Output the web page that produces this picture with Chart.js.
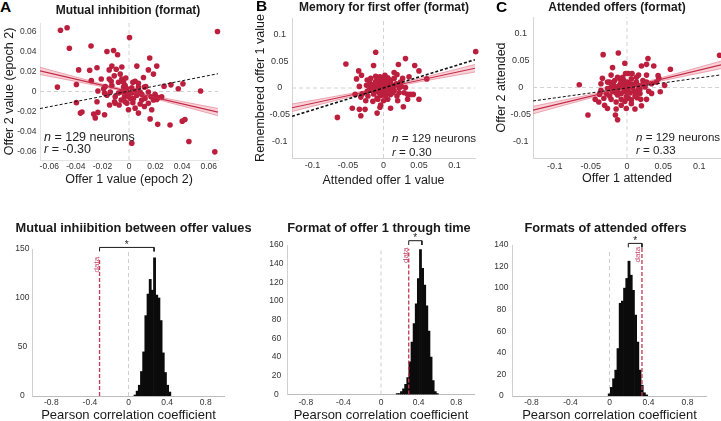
<!DOCTYPE html>
<html>
<head>
<meta charset="utf-8">
<script src="https://cdn.jsdelivr.net/npm/chart.js@4.4.1/dist/chart.umd.min.js"></script>
<style>
  body { margin: 0; background: #fff; }
  #wrap { position: relative; width: 721px; height: 421px; overflow: hidden; background: #fff; }
  canvas { position: absolute; }
  .t { position: absolute; white-space: nowrap; line-height: 1; font-family: 'Liberation Sans', Arial, sans-serif; color: #1a1a1a; }
  .c { transform: translate(-50%, -50%); }
  .l { transform: translateY(-50%); }
  .title { font-weight: bold; font-size: 12px; }
  .title2 { font-weight: bold; font-size: 12.8px; }
  .letter { font-weight: bold; font-size: 15.5px; color: #000; }
  .stat { font-size: 12.5px; color: #222; }
  .stat2 { font-size: 11.6px; color: #222; }
</style>
</head>
<body>
<div id="wrap">
  <canvas id="cA" width="224" height="168" style="left:0px;top:19px"></canvas>
  <canvas id="cB" width="228" height="174" style="left:253px;top:14px"></canvas>
  <canvas id="cC" width="233" height="173" style="left:494px;top:13px"></canvas>
  <canvas id="cD" width="225" height="194" style="left:0px;top:229px"></canvas>
  <canvas id="cE" width="221" height="198" style="left:254px;top:225px"></canvas>
  <canvas id="cF" width="227" height="198" style="left:480px;top:225px"></canvas>

  <div class="t letter l" style="left:0px;top:7px">A</div>
  <div class="t letter l" style="left:256px;top:6px">B</div>
  <div class="t letter l" style="left:496px;top:7px">C</div>
  <div class="t title c" style="left:128px;top:10px">Mutual inhibition (format)</div>
  <div class="t title c" style="left:384px;top:7px">Memory for first offer (format)</div>
  <div class="t title c" style="left:617px;top:7px">Attended offers (format)</div>
  <div class="t title2 c" style="left:133.5px;top:228px">Mutual inhiibition between offer values</div>
  <div class="t title2 c" style="left:379px;top:228px">Format of offer 1 through time</div>
  <div class="t title2 c" style="left:605.5px;top:228px">Formats of attended offers</div>

  <div class="t stat l" style="left:44px;top:137px"><i>n</i> = 129 neurons</div>
  <div class="t stat l" style="left:44px;top:149px"><i>r</i> = -0.30</div>
  <div class="t stat2 l" style="left:392px;top:138px"><i>n</i> = 129 neurons</div>
  <div class="t stat2 l" style="left:392px;top:151.5px"><i>r</i> = 0.30</div>
  <div class="t stat2 l" style="left:636px;top:137px"><i>n</i> = 129 neurons</div>
  <div class="t stat2 l" style="left:636px;top:150px"><i>r</i> = 0.33</div>
</div>
<script>
// ---- panel A: offer 1 vs offer 2 value (epoch 2)
const offer1A = [-0.0516,-0.0466,-0.0449,-0.0286,-0.0166,-0.0116,-0.0086,0.0004,0.0666,0.0156,
  -0.0379,-0.0296,-0.0241,-0.0539,-0.0396,-0.0284,-0.0209,-0.0149,-0.0129,-0.0096,
  -0.0054,0.0059,0.0146,0.0209,0.0184,-0.0149,-0.0134,-0.0079,-0.0024,0.0046,
  0.0071,0.0109,0.0116,-0.0179,-0.0041,-0.0016,0.0021,0.0046,0.0084,0.0126,
  0.0264,0.0316,0.0406,0.0371,0.0539,-0.0396,-0.0366,-0.0354,-0.0266,-0.0234,
  -0.0254,-0.0184,-0.0234,-0.0166,-0.0141,-0.0104,-0.0104,-0.0074,-0.0059,-0.0034,
  -0.0016,0.0009,0.0029,-0.0004,0.0046,0.0071,0.0084,0.0121,0.0146,0.0166,
  0.0209,0.0246,0.0171,0.0096,-0.0016,-0.0054,0.0059,-0.0079,0.0146,0.0159,
  0.0216,0.0309,0.0401,0.0421,0.0021,0.0451,0.0646,-0.0129,0.0029,-0.0029,
  -0.0054,-0.0111,-0.0066,-0.0191,-0.0241,-0.0146,-0.0184,0.0021,0.0096,0.0196,
  0.0221,0.0071,0.0034,-0.0029,-0.0109,0.0116,0.0184,-0.0024,-0.0004,-0.0041];
const offer2A = [0.0610,0.0634,0.0431,0.0453,0.0398,0.0408,0.0366,0.0537,0.0598,0.0334,
  0.0215,0.0211,0.0237,0.0044,0.0069,0.0108,0.0124,0.0215,0.0253,0.0221,
  0.0244,0.0253,0.0215,0.0253,0.0173,0.0124,0.0102,0.0092,0.0134,0.0102,
  0.0082,0.0140,0.0044,0.0050,0.0044,0.0027,0.0037,0.0005,-0.0005,0.0050,
  0.0053,0.0066,0.0076,0.0027,0.0005,-0.0111,-0.0215,-0.0205,-0.0224,-0.0208,
  -0.0263,-0.0231,0.0005,-0.0037,-0.0005,-0.0053,-0.0118,-0.0134,-0.0085,-0.0053,
  -0.0118,-0.0069,-0.0111,-0.0182,-0.0166,-0.0215,-0.0124,-0.0069,-0.0118,-0.0053,
  -0.0079,-0.0053,-0.0182,-0.0085,-0.0021,-0.0005,-0.0037,-0.0015,-0.0005,-0.0273,
  -0.0327,-0.0334,-0.0295,-0.0279,-0.0514,-0.0498,-0.0601,0.0060,0.0092,0.0060,
  0.0124,0.0156,0.0173,0.0027,-0.0102,-0.0134,-0.0015,-0.0015,-0.0027,-0.0027,
  -0.0060,0.0044,-0.0069,-0.0102,-0.0102,-0.0150,-0.0085,-0.0005,-0.0047,0.0092];
const bandXA = [-0.067,-0.04,-0.02,0,0.02,0.04,0.067];
const bandHiA = [0.0241,0.0144,0.0074,0.0010,-0.0048,-0.0100,-0.0169];
const bandLoA = [0.0169,0.0100,0.0048,-0.0010,-0.0074,-0.0144,-0.0241];
const lineXA = [-0.067,0.067];
const fitA = [0.0205,-0.0205];
const diagA = [-0.0170,0.0177];
const ticksA = [-0.06,-0.04,-0.02,0,0.02,0.04,0.06];

// ---- panel B: attended vs remembered offer 1
const attendedB = [0.130,-0.053,-0.011,0.031,-0.014,0.021,0.044,0.050,-0.035,-0.031,
  -0.038,-0.018,-0.005,0.002,0.015,0.019,0.027,0.036,0.061,-0.019,
  -0.011,-0.006,-0.001,0.006,0.010,0.016,0.022,0.031,-0.013,-0.008,
  0.001,0.008,-0.023,-0.030,-0.032,-0.022,-0.014,-0.004,0.003,0.010,
  0.019,0.029,0.038,0.042,0.050,-0.025,-0.015,-0.008,0.006,0.020,
  -0.044,-0.034,-0.026,-0.009,-0.005,0.010,0.028,-0.032,-0.065,-0.018,
  -0.011,-0.004,0.003,-0.006,0.006,0.010,-0.001,-0.015,0.015,0.024,
  -0.009,0.000,-0.034,-0.024,0.034,0.010,0.003,-0.005,0.015,-0.011,
  -0.023,0.022,-0.004,0.034,-0.040,
  -0.002,0.004,-0.007,0.012,-0.016,0.008,-0.003,0.018,-0.010,0.013,-0.020,0.005,-0.012,0.000,0.025];
const rememberedB = [0.068,0.045,0.067,0.055,0.042,0.044,0.042,0.032,0.032,0.024,
  0.017,0.018,0.021,0.024,0.029,0.025,0.018,0.021,0.017,0.009,
  0.012,0.007,0.011,0.012,0.009,0.005,0.000,0.001,0.001,-0.003,
  0.003,-0.005,-0.006,-0.011,-0.017,-0.015,-0.011,-0.012,-0.015,-0.012,
  -0.015,-0.009,-0.012,-0.012,-0.021,-0.024,-0.025,-0.021,-0.021,-0.024,
  -0.038,-0.040,-0.040,-0.047,-0.036,-0.038,-0.035,-0.052,-0.055,0.000,
  0.003,0.000,-0.007,0.016,0.019,0.015,-0.006,-0.005,-0.005,0.011,
  -0.019,-0.024,0.003,0.005,-0.021,0.005,0.007,0.005,0.018,0.022,
  0.015,-0.009,-0.032,-0.012,-0.012,
  0.008,0.002,-0.008,-0.002,0.006,0.014,-0.014,0.008,0.010,-0.009,-0.003,-0.010,-0.006,0.017,0.003];
const bandXB = [-0.129,-0.08,-0.04,0,0.04,0.08,0.129];
const bandHiB = [-0.030,-0.0185,-0.0088,0.002,0.0142,0.0275,0.044];
const bandLoB = [-0.044,-0.0275,-0.0142,-0.002,0.0088,0.0185,0.030];
const lineXB = [-0.129,0.129];
const fitB = [-0.037,0.037];
const diagB = [-0.053,0.053];
const ticksB = [-0.1,-0.05,0,0.05,0.1];

// ---- panel C: offer 1 attended vs offer 2 attended
const offer1C = [0.128,-0.033,-0.012,0.029,-0.020,-0.003,0.020,0.027,0.037,0.060,
  -0.022,-0.002,0.002,0.007,0.016,0.027,0.043,-0.034,-0.013,-0.066,
  -0.036,-0.024,-0.017,-0.010,-0.004,0.006,0.013,0.022,0.034,0.041,
  0.052,0.044,-0.036,-0.027,-0.020,-0.013,-0.006,0.001,0.008,0.015,
  0.025,0.030,-0.044,-0.039,-0.032,-0.031,-0.022,-0.015,-0.008,-0.001,
  0.006,0.012,0.019,0.027,0.046,-0.027,-0.015,-0.001,0.011,0.020,
  -0.054,-0.016,-0.013,-0.009,-0.002,0.004,-0.012,-0.017,0.004,-0.008,
  -0.013,0.011,-0.024,0.015,0.027,-0.006,-0.027,-0.002,0.018,0.006,
  -0.008,0.034,0.013,-0.022,-0.038,
  -0.004,0.003,-0.010,0.009,-0.015,0.002,-0.005,0.018,-0.019,0.010,-0.003,0.022,-0.028,0.000,0.014];
const offer2C = [0.060,0.061,0.064,0.054,0.037,0.045,0.040,0.043,0.040,0.034,
  0.023,0.026,0.026,0.026,0.023,0.023,0.022,0.017,0.019,0.005,
  0.007,0.010,0.013,0.016,0.011,0.016,0.010,0.013,0.007,0.010,
  0.004,0.017,-0.005,-0.002,-0.008,-0.004,0.001,-0.004,-0.001,-0.005,
  0.001,-0.007,-0.022,-0.027,-0.020,-0.033,-0.022,-0.027,-0.022,-0.017,
  -0.023,-0.013,-0.022,-0.022,-0.008,-0.039,-0.040,-0.039,-0.040,-0.034,
  -0.051,-0.051,-0.060,0.007,0.005,0.007,0.002,0.001,-0.010,-0.011,
  -0.014,-0.016,-0.016,0.004,0.010,0.019,0.010,-0.007,-0.011,-0.030,
  -0.033,-0.011,0.019,0.001,-0.013,
  -0.003,0.003,0.004,0.006,-0.010,-0.020,0.014,-0.003,0.006,-0.008,-0.026,0.006,-0.012,0.010,-0.019];
const bandXC = [-0.13,-0.08,-0.04,0,0.04,0.08,0.13];
const bandHiC = [-0.035,-0.0213,-0.0102,0.002,0.0156,0.0303,0.049];
const bandLoC = [-0.049,-0.0303,-0.0156,-0.002,0.0102,0.0213,0.035];
const lineXC = [-0.13,0.13];
const fitC = [-0.042,0.042];
const diagC = [-0.025,0.0235];
const ticksC = [-0.1,-0.05,0,0.05,0.1];

// ---- null distributions of the Pearson r (histograms)
const binsD = [0.0675,0.09,0.1125,0.135,0.1575,0.18,0.2025,0.225,0.2475,0.27,0.2925,0.315,0.3375,0.36,0.3825,0.405,0.4275];
const countsD = [1,5,11,25,45,82,104,119,108,141,103,100,77,44,24,11,4];
const binsE = [0.1725,0.195,0.2175,0.24,0.2625,0.285,0.3075,0.33,0.3525,0.375,0.3975,0.42,0.4425,0.465,0.4875,0.51,0.5325,0.555,0.5775,0.6];
const countsE = [1,1,3,6,11,18,35,56,76,97,124,155,135,117,95,68,40,15,3,1];
const binsF = [-0.0025,0.02,0.0425,0.065,0.0875,0.11,0.1325,0.155,0.1775,0.2,0.2225,0.245,0.2675,0.29,0.3125,0.335,0.3575,0.38];
const countsF = [2,8,16,24,44,86,88,100,109,125,112,98,75,50,24,10,3,1];
const rTicks = [-0.8,-0.4,0,0.4,0.8];
const dataR = [-0.30, 0.295, 0.333];      // observed r for D, E, F
const bracketXD = [-0.30,-0.30,0.265,0.265], bracketYD = [147.5,151.6,151.6,147.5];
const bracketXE = [0.295,0.295,0.435,0.435], bracketYE = [160,164.6,164.6,160];
const bracketXF = [0.193,0.193,0.333,0.333], bracketYF = [137.8,141.5,141.5,137.8];

const RED = '#bc1f3e';
const FONT = "'Liberation Sans', Arial, Helvetica, sans-serif";
Chart.defaults.font.family = FONT;
Chart.defaults.color = '#333';
Chart.defaults.animation = false;
Chart.defaults.events = [];
Chart.defaults.plugins.legend.display = false;
Chart.defaults.plugins.tooltip.enabled = false;

const fmt = v => String(Math.round(v * 1000) / 1000);
const xy = (xs, ys) => xs.map((x, i) => ({ x: x, y: ys[i] }));

// small text notes placed in data coordinates
const notesPlugin = {
  id: 'notes',
  afterDatasetsDraw(chart, args, opts) {
    const { ctx, scales } = chart;
    (opts.items || []).forEach(it => {
      ctx.save();
      ctx.translate(scales.x.getPixelForValue(it.x) + (it.dx || 0), scales.y.getPixelForValue(it.y) + (it.dy || 0));
      ctx.rotate(it.rot || 0);
      ctx.font = it.font;
      ctx.fillStyle = it.color;
      ctx.textAlign = 'center';
      ctx.textBaseline = it.base || 'middle';
      ctx.fillText(it.text, 0, 0);
      ctx.restore();
    });
  }
};

function axis(o) {
  return {
    type: 'linear',
    min: o.min, max: o.max,
    offset: false,
    grid: { display: false, drawTicks: false },
    border: { display: true, color: o.border, width: 1 },
    afterBuildTicks: s => { s.ticks = o.ticks.map(v => ({ value: v })); },
    afterFit: s => {
      if (s.isHorizontal()) { s.height = o.size; s.paddingLeft = 0; s.paddingRight = 0; }
      else { s.width = o.size; s.paddingTop = 0; s.paddingBottom = 0; }
    },
    ticks: { autoSkip: false, maxRotation: 0, padding: o.pad, crossAlign: o.align || 'near',
             font: { size: o.fs }, color: '#333', callback: v => fmt(v) },
    title: { display: !!o.title, text: o.title, color: '#1a1a1a',
             font: { size: o.tfs || 12.5 }, padding: { top: o.tpad || 0, bottom: 0 } }
  };
}

function scatterPanel(id, p) {
  const lo = p.lineX[0], hi = p.lineX[1];
  new Chart(document.getElementById(id), {
    type: 'scatter',
    data: {
      datasets: [
        { data: xy(p.xs, p.ys), backgroundColor: RED, borderWidth: 0, pointRadius: 2.8, order: 5, clip: false },
        { data: xy(p.bandX, p.bandHi), showLine: true, borderColor: '#e8909f', borderWidth: 0.8,
          pointRadius: 0, cubicInterpolationMode: 'monotone', order: 6 },
        { data: xy(p.bandX, p.bandLo), showLine: true, borderColor: '#e8909f', borderWidth: 0.8,
          pointRadius: 0, cubicInterpolationMode: 'monotone', fill: '-1',
          backgroundColor: 'rgba(232,125,145,0.35)', order: 6 },
        { data: xy(p.lineX, p.fit), showLine: true, borderColor: '#c42a45', borderWidth: 1.1, pointRadius: 0, order: 2 },
        { data: xy(p.lineX, p.diag), showLine: true, borderColor: '#111', borderWidth: p.diagW,
          borderDash: [3, 2], pointRadius: 0, order: 1 },
        { data: [{ x: lo, y: 0 }, { x: hi, y: 0 }], showLine: true, borderColor: '#d2d2d2', borderWidth: 1,
          borderDash: [4, 3], pointRadius: 0, order: 10 },
        { data: [{ x: 0, y: p.ymin }, { x: 0, y: p.ymax }], showLine: true, borderColor: '#d2d2d2', borderWidth: 1,
          borderDash: [4, 3], pointRadius: 0, order: 10 }
      ]
    },
    options: {
      responsive: false,
      layout: { padding: { right: 6 } },
      scales: {
        x: axis({ min: lo, max: hi, ticks: p.ticks, size: p.xh, pad: p.xpad, fs: p.fs, border: p.border, title: p.xtitle }),
        y: axis({ min: p.ymin, max: p.ymax, ticks: p.ticks, size: p.yw, pad: p.ypad, fs: p.fs, border: p.border,
                  align: p.yalign, title: p.ytitle, tpad: p.ytpad })
      }
    }
  });
}

scatterPanel('cA', { xs: offer1A, ys: offer2A, bandX: bandXA, bandHi: bandHiA, bandLo: bandLoA,
  lineX: lineXA, fit: fitA, diag: diagA, diagW: 1, ticks: ticksA, ymin: -0.0682, ymax: 0.0682,
  xh: 27, yw: 40, xpad: 2, ypad: 3.5, fs: 8.5, yalign: 'near', border: '#e4e4e4', ytpad: 2,
  xtitle: 'Offer 1 value (epoch 2)', ytitle: 'Offer 2 value (epoch 2)' });
scatterPanel('cB', { xs: attendedB, ys: rememberedB, bandX: bandXB, bandHi: bandHiB, bandLo: bandLoB,
  lineX: lineXB, fit: fitB, diag: diagB, diagW: 1.6, ticks: ticksB, ymin: -0.131, ymax: 0.131,
  xh: 30, yw: 39, xpad: 2, ypad: 2, fs: 9, yalign: 'center', border: '#d4d4d4', ytpad: 0,
  xtitle: 'Attended offer 1 value', ytitle: 'Remembered offer 1 value' });
scatterPanel('cC', { xs: offer1C, ys: offer2C, bandX: bandXC, bandHi: bandHiC, bandLo: bandLoC,
  lineX: lineXC, fit: fitC, diag: diagC, diagW: 1, ticks: ticksC, ymin: -0.131, ymax: 0.131,
  xh: 28, yw: 39, xpad: 3, ypad: 2, fs: 9, yalign: 'center', border: '#d4d4d4', ytpad: 0,
  xtitle: 'Offer 1 attended', ytitle: 'Offer 2 attended' });

function histPanel(id, p) {
  const redCol = '#c23a55';
  new Chart(document.getElementById(id), {
    type: 'bar',
    data: {
      datasets: [
        { type: 'bar', data: xy(p.bins, p.counts), backgroundColor: '#0b0b0b', borderWidth: 0,
          barPercentage: 1, categoryPercentage: 1, grouped: false, order: 3 },
        { type: 'line', data: [{ x: 0, y: 0 }, { x: 0, y: p.zeroTop }], borderColor: '#cfcfcf', borderWidth: 1,
          borderDash: [4, 3], pointRadius: 0, order: 5, clip: false },
        { type: 'line', data: [{ x: p.r, y: 0 }, { x: p.r, y: p.dataTop }], borderColor: redCol, borderWidth: 1.3,
          borderDash: [4, 2], pointRadius: 0, order: 1, clip: false },
        { type: 'line', data: xy(p.bx, p.by), borderColor: '#1a1a1a', borderWidth: 1, pointRadius: 0,
          order: 0, clip: false }
      ]
    },
    plugins: [notesPlugin],
    options: {
      responsive: false,
      layout: { padding: { top: 20 } },
      plugins: {
        notes: { items: [
          { text: 'data', x: p.r, y: p.labelY, dx: p.labelDx, rot: -Math.PI / 2, font: '8px ' + FONT, color: '#c4496a' },
          { text: '*', x: (p.bx[0] + p.bx[3]) / 2, y: p.by[1], dy: 0.5, base: 'alphabetic', font: '10px ' + FONT, color: '#222' }
        ] }
      },
      scales: {
        x: axis({ min: -1, max: 1, ticks: rTicks, size: p.xh, pad: p.xpad, fs: 8.5, border: '#bdbdbd',
                  title: 'Pearson correlation coefficient', tfs: 13 }),
        y: axis({ min: 0, max: p.ymax, ticks: p.yticks, size: p.yw, pad: p.ypad, fs: 8.5, border: '#d0d0d0', align: 'center' })
      }
    }
  });
}

histPanel('cD', { bins: binsD, counts: countsD, r: dataR[0], dataTop: 141, zeroTop: 150, bx: bracketXD, by: bracketYD,
  labelY: 134, labelDx: -3, ymax: 150, yticks: [0, 50, 100, 150], xh: 27, yw: 32, xpad: 2, ypad: 2.5 });
histPanel('cE', { bins: binsE, counts: countsE, r: dataR[1], dataTop: 156, zeroTop: 155, bx: bracketXE, by: bracketYE,
  labelY: 149, labelDx: -3, ymax: 160, yticks: [0, 20, 40, 60, 80, 100, 120, 140, 160], xh: 28.5, yw: 33, xpad: 3, ypad: 3.5 });
histPanel('cF', { bins: binsF, counts: countsF, r: dataR[2], dataTop: 138, zeroTop: 136, bx: bracketXF, by: bracketYF,
  labelY: 131, labelDx: -4.5, ymax: 140, yticks: [0, 20, 40, 60, 80, 100, 120, 140], xh: 27, yw: 32, xpad: 2, ypad: 3.5 });
</script>
</body>
</html>
